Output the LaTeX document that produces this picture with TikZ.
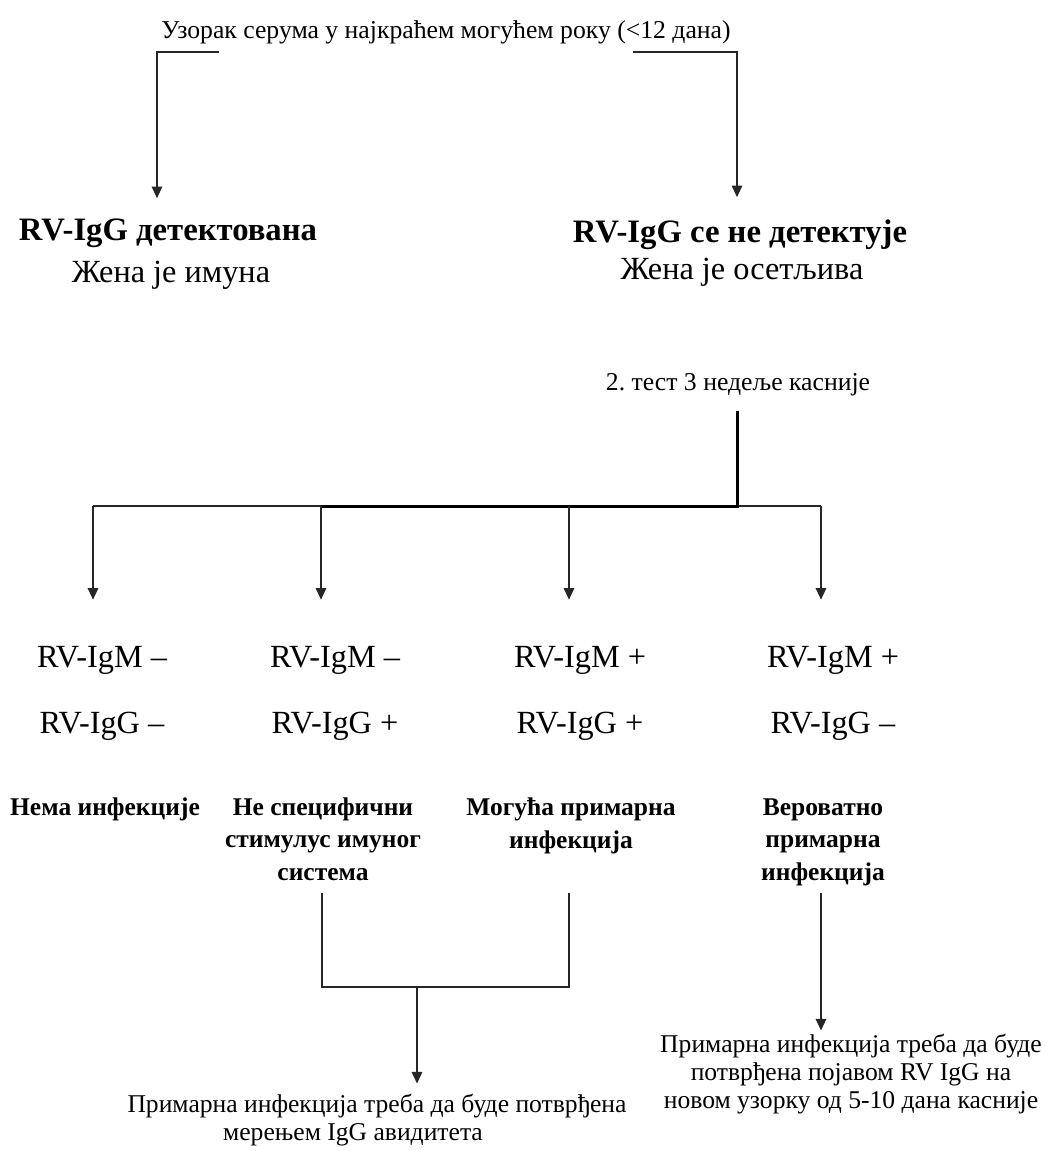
\documentclass[tikz,border=0pt]{standalone}
\usepackage{fontspec}
\setmainfont{Liberation Serif}
\usetikzlibrary{arrows.meta}

\tikzset{
  txt/.style={inner sep=0pt, anchor=base, font=\fontsize{25.7}{28}\selectfont},
  big/.style={inner sep=0pt, anchor=base, font=\fontsize{32.3}{34}\selectfont},
  bigb/.style={inner sep=0pt, anchor=base, font=\fontsize{32.7}{34}\selectfont\bfseries},
  res/.style={inner sep=0pt, anchor=base, align=center, font=\fontsize{25.5}{32.5}\selectfont\bfseries},
  note/.style={inner sep=0pt, anchor=base, align=center, font=\fontsize{25.6}{28}\selectfont},
  wire/.style={line width=1.3pt, black!85},
  heavy/.style={line width=3pt, black},
  arr/.style={wire, -{Triangle[width=10.5pt,length=11.5pt]}},
}

\begin{document}
\begin{tikzpicture}[x=1pt,y=-1pt]
\useasboundingbox (0,0) rectangle (1047,1151);

% first sample
\node[txt] (top) at (446,38) {Узорак серума у најкраћем могућем року (<12 дана)};

% first result
\node[bigb] (detA) at (168,240) {RV-IgG детектована};
\node[big]  (immA) at (171,282) {Жена је имуна};
\node[bigb] (detB) at (740,242) {RV-IgG се не детектује};
\node[big]  (sensB) at (742,279) {Жена је осетљива};

\coordinate (tl) at (219,52);
\coordinate (al) at (157,52);
\coordinate (tr) at (633,52);
\coordinate (ar) at (737,52);
\draw[arr, shorten >=20pt] (tl) -- (al) -- (al |- detA.north);
\draw[arr, shorten >=22pt] (tr) -- (ar) -- (ar |- detB.north);

% second test
\node[txt] (test2) at (738,390) {2.\ тест 3 недеље касније};

\coordinate (hub) at (737,506);
\coordinate (j1) at (93,506);
\coordinate (j2) at (321,506);
\coordinate (j3) at (569,506);
\coordinate (j4) at (821,506);

\draw[wire] (j2) -- (j1);
\draw[wire] (hub) -- (j4);
\draw[heavy, shorten <=15pt] (hub |- test2.south) -- (hub) -- (j2);

% serology rows
\node[big] (m1) at (102,667) {RV-IgM –};
\node[big] (m2) at (335,667) {RV-IgM –};
\node[big] (m3) at (580,667) {RV-IgM +};
\node[big] (m4) at (833,667) {RV-IgM +};
\node[big] (g1) at (102,733) {RV-IgG –};
\node[big] (g2) at (335,733) {RV-IgG +};
\node[big] (g3) at (580,733) {RV-IgG +};
\node[big] (g4) at (833,733) {RV-IgG –};

\foreach \j in {1,2,3,4}
  \draw[arr, shorten >=46pt] (j\j) -- (j\j |- m\j.north);

% interpretations (anchored on the baseline of the last line)
\node[res] (r1) at (105,815) {Нема инфекције};
\node[res] (r2) at (323,880) {Не специфични\\стимулус имуног\\система};
\node[res] (r3) at (571,848) {Могућа примарна\\инфекција};
\node[res] (r4) at (823,880) {Вероватно\\примарна\\инфекција};

% conclusions
\node[note] (bl) at (377,1140) {Примарна инфекција треба да буде потврђена\\мерењем IgG авидитета\hspace*{48pt}};
\node[note] (br) at (851,1108) {Примарна инфекција треба да буде\\потврђена појавом RV IgG на\\новом узорку од 5-10 дана касније};

\coordinate (c2) at (322,893);
\coordinate (c3) at (569,893);
\coordinate (c4) at (821,893);
\coordinate (mid) at (417,987);

\draw[wire] (c2) -- (c2 |- mid) -- (c3 |- mid) -- (c3);
\draw[arr, shorten >=10pt] (mid) -- (mid |- bl.north);
\draw[arr, shorten >=3pt] (c4) -- (c4 |- br.north);
\end{tikzpicture}
\end{document}
